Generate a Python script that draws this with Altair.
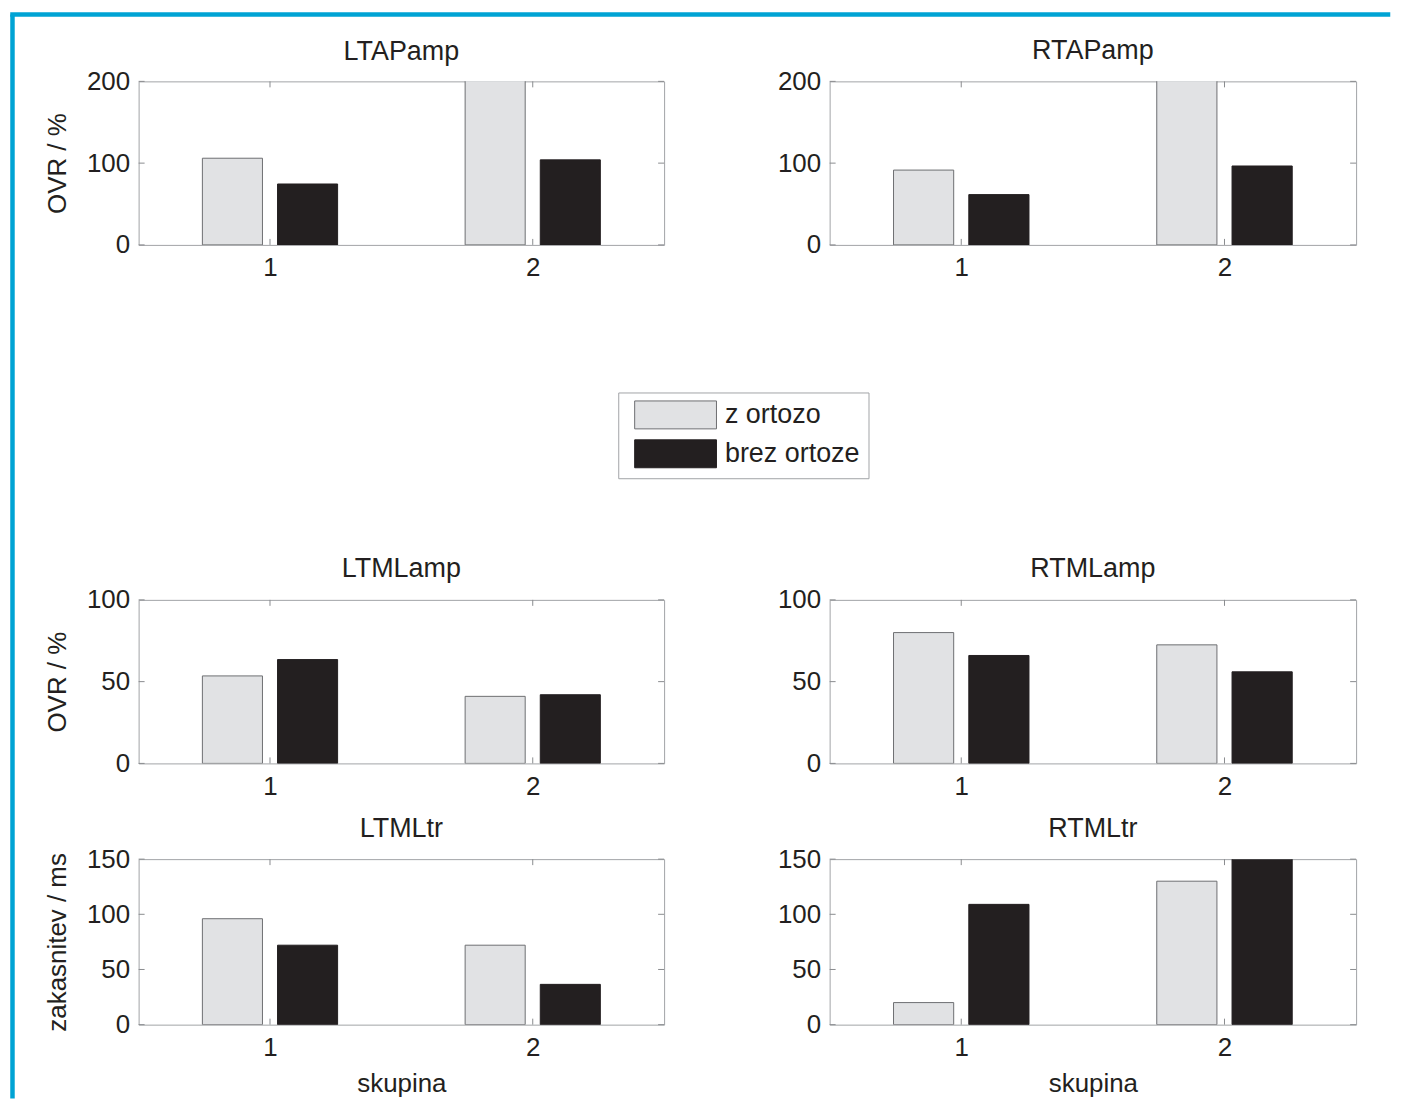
import altair as alt
import pandas as pd

# ---------------- data ----------------
panels = ["LTAPamp", "RTAPamp", "LTMLamp", "RTMLamp", "LTMLtr", "RTMLtr"]
groups = [1, 2]
series = ["z ortozo", "brez ortoze"]

# values per panel: [group 1, group 2]
z_ortozo_LTAPamp = [106, 215]
z_ortozo_RTAPamp = [91.5, 215]
z_ortozo_LTMLamp = [53.5, 41]
z_ortozo_RTMLamp = [80, 72.5]
z_ortozo_LTMLtr = [96, 72]
z_ortozo_RTMLtr = [20, 130]

brez_ortoze_LTAPamp = [74.5, 104]
brez_ortoze_RTAPamp = [61.5, 96.5]
brez_ortoze_LTMLamp = [63.5, 42]
brez_ortoze_RTMLamp = [66, 56]
brez_ortoze_LTMLtr = [72, 36.5]
brez_ortoze_RTMLtr = [109, 155]

ticks_AP = [0, 100, 200]
ticks_MLamp = [0, 50, 100]
ticks_MLtr = [0, 50, 100, 150]
x_ticks = [1, 2]

ytitle_ovr = "OVR / %"
ytitle_ms = "zakasnitev / ms"
xtitle = "skupina"

# ---------------- styles ----------------
TEXT = "#231f20"
FRAME = "#a2a4a7"
TICK = "#8a8c8f"
FILLS = ["#e1e2e4", "#231f20"]
STROKES = ["#6d6e71", "#231f20"]
BLUE = "#00a3d4"
FONT = "Liberation Sans, Arial, Helvetica, sans-serif"

W1, W2 = 527, 528
H12, H3 = 164, 166

legend = alt.Legend(title=None)


def panel(name, light, dark, ticks, w, h, ytitle=None, xt=None, title_offset=-17.5, border=False):
    df = pd.DataFrame({
        "skupina": groups + groups,
        "serija": [series[0]] * 2 + [series[1]] * 2,
        "vrednost": light + dark,
    })
    ymax = ticks[-1]
    xscale = alt.Scale(domain=[0.5, 2.5], nice=False, zero=False)
    yscale = alt.Scale(domain=[0, ymax], nice=False)
    xaxis = alt.Axis(values=x_ticks, format="d")
    yaxis = alt.Axis(values=ticks, format="d")

    bars = (
        alt.Chart(df)
        .transform_calculate(off="datum.serija == 'z ortozo' ? -0.143 : 0.143")
        .transform_calculate(
            xa="datum.skupina + datum.off - 0.1143",
            xb="datum.skupina + datum.off + 0.1143",
        )
        .mark_bar(clip=True, strokeWidth=1)
        .encode(
            x=alt.X("xa:Q", scale=xscale, axis=xaxis, title=xt),
            x2="xb:Q",
            y=alt.Y("vrednost:Q", scale=yscale, axis=yaxis, title=ytitle),
            y2=alt.datum(0),
            color=alt.Color("serija:N", scale=alt.Scale(domain=series, range=FILLS), legend=legend),
            stroke=alt.Stroke("serija:N", scale=alt.Scale(domain=series, range=STROKES), legend=legend),
        )
    )

    ydf = pd.DataFrame({"t": ticks})
    xdf = pd.DataFrame({"g": x_ticks})
    yl = alt.Chart(ydf).mark_rule(color=TICK, strokeWidth=1).encode(
        y=alt.Y("t:Q", scale=yscale, axis=yaxis, title=ytitle), x=alt.value(0), x2=alt.value(6))
    yr = alt.Chart(ydf).mark_rule(color=TICK, strokeWidth=1).encode(
        y=alt.Y("t:Q", scale=yscale, axis=yaxis, title=ytitle), x=alt.value(w - 6), x2=alt.value(w))
    xb = alt.Chart(xdf).mark_rule(color=TICK, strokeWidth=1).encode(
        x=alt.X("g:Q", scale=xscale, axis=xaxis, title=xt), y=alt.value(h - 6), y2=alt.value(h))
    xtp = alt.Chart(xdf).mark_rule(color=TICK, strokeWidth=1).encode(
        x=alt.X("g:Q", scale=xscale, axis=xaxis, title=xt), y=alt.value(0), y2=alt.value(6))

    layers = [bars, yl, yr, xb, xtp]
    if border:
        one = pd.DataFrame({"k": [0]})
        vline = alt.Chart(one).mark_rule(color=BLUE, strokeWidth=4.5, strokeCap="butt").encode(
            x=alt.value(-126.5), y=alt.value(-67), y2=alt.value(1020))
        hline = alt.Chart(one).mark_rule(color=BLUE, strokeWidth=4.5, strokeCap="square").encode(
            x=alt.value(-126.5), x2=alt.value(1253), y=alt.value(-67))
        layers += [vline, hline]

    return alt.layer(*layers).properties(
        width=w,
        height=h,
        title=alt.TitleParams(name, offset=title_offset, frame="group", anchor="middle", baseline="alphabetic"),
    )


p1 = panel("LTAPamp", z_ortozo_LTAPamp, brez_ortoze_LTAPamp, ticks_AP, W1, H12, ytitle=ytitle_ovr,
           title_offset=-76.25, border=True)
p2 = panel("RTAPamp", z_ortozo_RTAPamp, brez_ortoze_RTAPamp, ticks_AP, W2, H12)
p3 = panel("LTMLamp", z_ortozo_LTMLamp, brez_ortoze_LTMLamp, ticks_MLamp, W1, H12, ytitle=ytitle_ovr)
p4 = panel("RTMLamp", z_ortozo_RTMLamp, brez_ortoze_RTMLamp, ticks_MLamp, W2, H12)
p5 = panel("LTMLtr", z_ortozo_LTMLtr, brez_ortoze_LTMLtr, ticks_MLtr, W1, H3, ytitle=ytitle_ms, xt=xtitle)
p6 = panel("RTMLtr", z_ortozo_RTMLtr, brez_ortoze_RTMLtr, ticks_MLtr, W2, H3, xt=xtitle)

row1 = alt.hconcat(p1, p2, spacing=166, bounds="flush")
row2 = alt.hconcat(p3, p4, spacing=166, bounds="flush")
row3 = alt.hconcat(p5, p6, spacing=166, bounds="flush")
# with flush bounds a nested concat counts as zero height, so spacing = row height + gap
lower = alt.vconcat(row2, row3, spacing=H12 + 96, bounds="flush")

chart = (
    alt.vconcat(row1, lower, spacing=H12 + 356, bounds="flush")
    .resolve_scale(color="shared", stroke="shared")
    .configure(font=FONT, padding={"left": 0, "top": 1, "right": 2, "bottom": 2})
    .configure_view(stroke=FRAME, strokeWidth=1)
    .configure_axis(
        domain=False, ticks=False, grid=False,
        labelFontSize=26, labelColor=TEXT, labelFont=FONT,
        titleFontSize=26, titleFontWeight="normal", titleColor=TEXT, titleFont=FONT,
    )
    .configure_axisX(labelPadding=10, titlePadding=10, labelAngle=0)
    .configure_axisY(labelPadding=9, titlePadding=16)
    .configure_title(fontSize=27, fontWeight="normal", color=TEXT, font=FONT)
    .configure_legend(
        orient="none", legendX=481, legendY=312,
        padding=8, strokeColor=FRAME, fillColor="white", cornerRadius=0,
        labelFontSize=27, labelColor=TEXT, labelFont=FONT, labelLimit=400,
        symbolType="M-0.43,-1L5.43,-1L5.43,1L-0.43,1Z", symbolSize=784, symbolStrokeWidth=1,
        labelOffset=70, rowPadding=6,
    )
)

chart.save("out.html", embed_options={"renderer": "svg", "actions": False})
